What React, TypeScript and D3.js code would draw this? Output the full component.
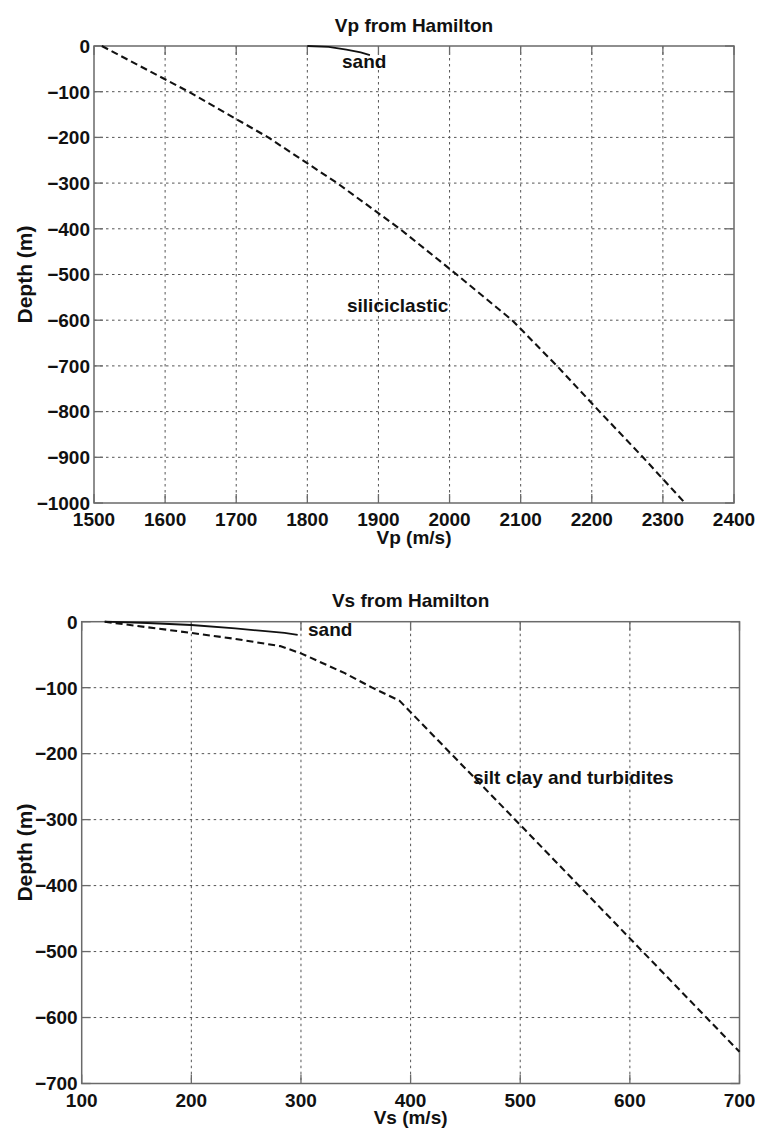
import React from "react";
import * as d3 from "d3";

// ---------- Data ----------
const vpTicks = [1500, 1600, 1700, 1800, 1900, 2000, 2100, 2200, 2300, 2400];
const vpDepthTicks = [0, -100, -200, -300, -400, -500, -600, -700, -800, -900, -1000];
const vpSilici = [
  [1511, 0], [1633, -100], [1745, -200], [1842, -300], [1930, -400],
  [2010, -500], [2088, -600], [2151, -700], [2211, -800], [2272, -900], [2331, -1000],
];
const vpSand = [[1800, 0], [1830, -2], [1855, -8], [1875, -14], [1888, -20]];

const vsTicks = [100, 200, 300, 400, 500, 600, 700];
const vsDepthTicks = [0, -100, -200, -300, -400, -500, -600, -700];
const vsSilt = [
  [121, 0], [200, -17], [240, -26], [281, -37], [300, -48], [340, -78],
  [365, -100], [390, -120], [500, -308], [600, -480], [700, -652],
];
const vsSand = [[121, 0], [160, -2], [200, -5], [240, -10], [265, -14], [285, -17], [297, -20]];

const FONT = "'Liberation Sans', Arial, Helvetica, sans-serif";
const fmt = (v: number) => (v < 0 ? "\u2212" + Math.abs(v) : String(v));

type Lbl = { text: string; x: number; y: number };

function Panel(props: {
  x0: number; x1: number; y0: number; y1: number;
  xDomain: [number, number]; yDomain: [number, number];
  xTicks: number[]; yTicks: number[];
  title: string; xLabel: string;
  dashed: number[][]; solid: number[][];
  labels: Lbl[];
}) {
  const { x0, x1, y0, y1 } = props;
  const xs = d3.scaleLinear().domain(props.xDomain).range([x0, x1]);
  const ys = d3.scaleLinear().domain(props.yDomain).range([y0, y1]);
  const line = d3.line<number[]>().x((d) => xs(d[0])).y((d) => ys(d[1]));
  const axisColor = "#6a6a6a";
  const gridColor = "#555";
  const tickLen = 9;
  const cx = (x0 + x1) / 2;
  return (
    <g fontFamily={FONT} fontWeight="bold" fontSize={19} fill="#111">
      {/* grid */}
      {props.xTicks.slice(1, -1).map((t) => (
        <line key={"gx" + t} x1={xs(t)} x2={xs(t)} y1={y0} y2={y1}
          stroke={gridColor} strokeWidth={1} strokeDasharray="2.5,3.5" />
      ))}
      {props.yTicks.slice(1, -1).map((t) => (
        <line key={"gy" + t} x1={x0} x2={x1} y1={ys(t)} y2={ys(t)}
          stroke={gridColor} strokeWidth={1} strokeDasharray="2.5,3.5" />
      ))}
      {/* ticks inward */}
      {props.xTicks.map((t) => (
        <g key={"tx" + t}>
          <line x1={xs(t)} x2={xs(t)} y1={y1} y2={y1 - tickLen} stroke={axisColor} strokeWidth={1.3} />
          <line x1={xs(t)} x2={xs(t)} y1={y0} y2={y0 + tickLen} stroke={axisColor} strokeWidth={1.3} />
          <text x={xs(t)} y={y1 + 23} textAnchor="middle">{fmt(t)}</text>
        </g>
      ))}
      {props.yTicks.map((t) => (
        <g key={"ty" + t}>
          <line x1={x0} x2={x0 + tickLen} y1={ys(t)} y2={ys(t)} stroke={axisColor} strokeWidth={1.3} />
          <line x1={x1} x2={x1 - tickLen} y1={ys(t)} y2={ys(t)} stroke={axisColor} strokeWidth={1.3} />
          <text x={x0 - 4} y={ys(t)} dy="0.36em" textAnchor="end">{fmt(t)}</text>
        </g>
      ))}
      {/* box */}
      <rect x={x0} y={y0} width={x1 - x0} height={y1 - y0} fill="none" stroke={axisColor} strokeWidth={1.5} />
      {/* curves */}
      <path d={line(props.dashed) || ""} fill="none" stroke="#111" strokeWidth={2.1} strokeDasharray="7,4" />
      <path d={line(props.solid) || ""} fill="none" stroke="#111" strokeWidth={1.8} />
      {/* titles */}
      <text x={cx} y={y0 - 14.5} textAnchor="middle">{props.title}</text>
      <text x={cx} y={y1 + 40.5} textAnchor="middle">{props.xLabel}</text>
      <text transform={`translate(32,${(y0 + y1) / 2}) rotate(-90)`} textAnchor="middle" fontSize={21}>Depth (m)</text>
      {props.labels.map((l) => (
        <text key={l.text} x={l.x} y={l.y}>{l.text}</text>
      ))}
    </g>
  );
}

export default function App() {
  return (
    <div style={{ position: "absolute", left: 0, top: 0 }}>
      <svg width={759} height={1129} style={{ display: "block", background: "#fff" }}>
        <rect width={759} height={1129} fill="#fff" />
        <Panel
          x0={94} x1={734} y0={46} y1={503}
          xDomain={[1500, 2400]} yDomain={[0, -1000]}
          xTicks={vpTicks} yTicks={vpDepthTicks}
          title="Vp from Hamilton" xLabel="Vp (m/s)"
          dashed={vpSilici} solid={vpSand}
          labels={[
            { text: "sand", x: 342, y: 68 },
            { text: "siliciclastic", x: 347, y: 311.5 },
          ]}
        />
        <Panel
          x0={81.7} x1={739.5} y0={621.7} y1={1083.5}
          xDomain={[100, 700]} yDomain={[0, -700]}
          xTicks={vsTicks} yTicks={vsDepthTicks}
          title="Vs from Hamilton" xLabel="Vs (m/s)"
          dashed={vsSilt} solid={vsSand}
          labels={[
            { text: "sand", x: 308, y: 636 },
            { text: "silt clay and turbidites", x: 473, y: 784 },
          ]}
        />
      </svg>
    </div>
  );
}
